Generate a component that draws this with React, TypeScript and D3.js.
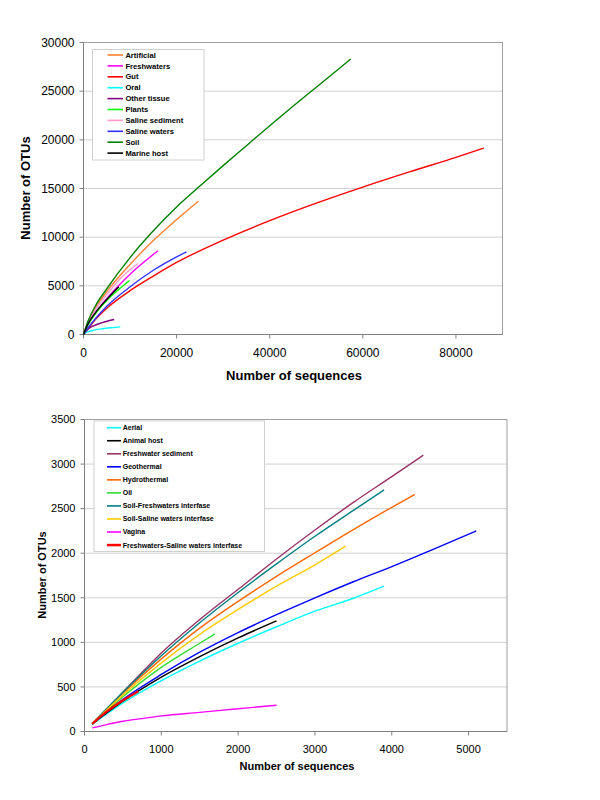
import React from "react";
import * as d3 from "d3";

type Pt = [number, number];

// ---------- Top chart data ----------
const topNames = ["Artificial", "Freshwaters", "Gut", "Oral", "Other tissue", "Plants", "Saline sediment", "Saline waters", "Soil", "Marine host"];
const topColors = ["#FF8033", "#FF00FF", "#FF0000", "#00FFFF", "#800080", "#00FF00", "#FF99CC", "#3333FF", "#008000", "#000000"];
const artificial: Pt[] = [[0, 0], [1000, 1300], [2500, 2700], [5000, 4400], [10000, 7200], [15000, 9650], [20000, 11800], [24700, 13700]];
const freshwaters: Pt[] = [[0, 0], [1000, 1100], [2500, 2200], [5000, 3700], [10000, 6200], [16000, 8600]];
const gut: Pt[] = [[0, 0], [1000, 600], [2500, 1500], [5000, 2700], [10000, 4500], [15000, 6000], [20000, 7400], [30000, 9700], [40000, 11700], [50000, 13500], [60000, 15150], [70000, 16700], [80000, 18200], [86000, 19150]];
const oral: Pt[] = [[0, 0], [500, 180], [1000, 280], [2000, 420], [4000, 590], [6000, 700], [7900, 780]];
const otherTissue: Pt[] = [[0, 0], [500, 350], [1000, 560], [2000, 850], [4000, 1220], [6600, 1540]];
const plants: Pt[] = [[0, 0], [1000, 1000], [2500, 2100], [5000, 3500], [7500, 4600], [9900, 5550]];
const salineSediment: Pt[] = [[0, 0], [1000, 1200], [2500, 2500], [5000, 4100], [8000, 5800], [11700, 7300]];
const salineWaters: Pt[] = [[0, 0], [1000, 700], [2500, 1600], [5000, 2900], [10000, 4900], [15000, 6600], [22100, 8500]];
const soil: Pt[] = [[0, 0], [1000, 1400], [2500, 2900], [5000, 4700], [10000, 7900], [15000, 10650], [20000, 13100], [25000, 15250], [30000, 17350], [35000, 19400], [40000, 21450], [45000, 23450], [50000, 25400], [55000, 27350], [57400, 28300]];
const marineHost: Pt[] = [[0, 0], [1000, 1100], [2500, 2200], [5000, 3600], [7600, 4900]];
const topSeries = [artificial, freshwaters, gut, oral, otherTissue, plants, salineSediment, salineWaters, soil, marineHost];
const topXTicks = [0, 20000, 40000, 60000, 80000];
const topYTicks = [0, 5000, 10000, 15000, 20000, 25000, 30000];

// ---------- Bottom chart data ----------
const botNames = ["Aerial", "Animal host", "Freshwater sediment", "Geothermal", "Hydrothermal", "Oil", "Soil-Freshwaters interfase", "Soil-Saline waters interfase", "Vagina", "Freshwaters-Saline waters interfase"];
const botColors = ["#00FFFF", "#000000", "#993366", "#0000FF", "#FF6600", "#33DD33", "#008080", "#FFCC00", "#FF00FF", "#FF0000"];
const aerial: Pt[] = [[100, 80], [500, 320], [1000, 570], [1500, 790], [2000, 990], [2500, 1175], [3000, 1350], [3500, 1495], [3900, 1630]];
const animalHost: Pt[] = [[100, 85], [500, 340], [1000, 610], [1500, 840], [2000, 1050], [2500, 1240]];
const fwSediment: Pt[] = [[100, 90], [250, 215], [500, 440], [750, 665], [1000, 880], [1500, 1255], [2000, 1595], [2500, 1935], [3000, 2260], [3500, 2570], [4000, 2860], [4410, 3100]];
const geothermal: Pt[] = [[100, 85], [500, 360], [1000, 640], [1500, 890], [2000, 1110], [2500, 1310], [3000, 1500], [3500, 1680], [4000, 1850], [4500, 2030], [5100, 2250]];
const hydrothermal: Pt[] = [[100, 90], [500, 430], [1000, 815], [1500, 1160], [2000, 1460], [2500, 1740], [3000, 2005], [3500, 2265], [4000, 2515], [4300, 2660]];
const oil: Pt[] = [[100, 85], [500, 390], [1000, 720], [1500, 990], [1700, 1095]];
const soilFw: Pt[] = [[100, 90], [500, 440], [1000, 850], [1500, 1220], [2000, 1560], [2500, 1880], [3000, 2190], [3500, 2480], [3900, 2710]];
const soilSaline: Pt[] = [[100, 90], [500, 410], [1000, 770], [1500, 1090], [2000, 1370], [2500, 1630], [3000, 1870], [3400, 2080]];
const vagina: Pt[] = [[100, 40], [300, 80], [500, 115], [750, 145], [1000, 175], [1500, 215], [2000, 255], [2500, 295]];
const fwSaline: Pt[] = [[100, 85], [300, 230], [500, 350], [700, 450]];
const botSeries = [aerial, animalHost, fwSediment, geothermal, hydrothermal, oil, soilFw, soilSaline, vagina, fwSaline];
const botXTicks = [0, 1000, 2000, 3000, 4000, 5000];
const botYTicks = [0, 500, 1000, 1500, 2000, 2500, 3000, 3500];

const FONT = "Arial, 'Liberation Sans', Helvetica, sans-serif";

interface PanelProps {
  left: number; right: number; top: number; bottom: number;
  xMax: number; yMax: number;
  xTicks: number[]; yTicks: number[];
  series: Pt[][]; names: string[]; colors: string[];
  tickSize: number; titleSize: number;
  xTitleY: number; xTitleX: number; yTitleX: number; yTitleY: number;
  legend: { x: number; y: number; w: number; h: number; first: number; step: number; lx1: number; lx2: number; tx: number; fs: number };
  thickLast?: boolean;
}

function Panel(p: PanelProps) {
  const x = d3.scaleLinear().domain([0, p.xMax]).range([p.left, p.right]);
  const y = d3.scaleLinear().domain([0, p.yMax]).range([p.bottom, p.top]);
  const line = d3.line<Pt>().x(d => x(d[0])).y(d => y(d[1])).curve(d3.curveMonotoneX);
  const lg = p.legend;
  return (
    <g>
      {p.yTicks.map(t => (
        t > 0 && t < p.yMax ? <line key={"g" + t} x1={p.left} x2={p.right} y1={y(t)} y2={y(t)} stroke="#d0d0d0" strokeWidth={1} /> : null
      ))}
      <rect x={p.left} y={p.top} width={p.right - p.left} height={p.bottom - p.top} fill="none" stroke="#a0a0a0" strokeWidth={1} />
      <line x1={p.left} x2={p.left} y1={p.top} y2={p.bottom} stroke="#808080" strokeWidth={1} />
      <line x1={p.left} x2={p.right} y1={p.bottom} y2={p.bottom} stroke="#808080" strokeWidth={1} />
      {p.yTicks.map(t => (
        <g key={"y" + t}>
          <line x1={p.left - 4} x2={p.left} y1={y(t)} y2={y(t)} stroke="#808080" />
          <text x={p.left - 9} y={y(t)} dy="0.35em" textAnchor="end" fontSize={p.tickSize} fontFamily={FONT} fill="#000">{t}</text>
        </g>
      ))}
      {p.xTicks.map(t => (
        <g key={"x" + t}>
          <line x1={x(t)} x2={x(t)} y1={p.bottom} y2={p.bottom + 4} stroke="#808080" />
          <text x={x(t)} y={p.bottom + 18} dy="0.35em" textAnchor="middle" fontSize={p.tickSize} fontFamily={FONT} fill="#000">{t}</text>
        </g>
      ))}
      <text x={p.xTitleX} y={p.xTitleY} dy="0.35em" textAnchor="middle" fontSize={p.titleSize} fontWeight="bold" fontFamily={FONT}>Number of sequences</text>
      <text transform={`translate(${p.yTitleX},${p.yTitleY}) rotate(-90)`} dy="0.35em" textAnchor="middle" fontSize={p.titleSize} fontWeight="bold" fontFamily={FONT}>Number of OTUs</text>
      {p.series.map((s, i) => (
        <path key={"s" + i} d={line(s) || ""} fill="none" stroke={p.colors[i]} strokeWidth={p.thickLast && i === p.series.length - 1 ? 2.2 : 1.4} />
      ))}
      <rect x={lg.x} y={lg.y} width={lg.w} height={lg.h} fill="#fff" stroke="#d0d0d0" strokeWidth={1} />
      {p.names.map((n, i) => {
        const yy = lg.first + i * lg.step;
        return (
          <g key={"l" + i}>
            <line x1={lg.lx1} x2={lg.lx2} y1={yy} y2={yy} stroke={p.colors[i]} strokeWidth={p.thickLast && i === p.names.length - 1 ? 2.5 : 1.6} />
            <text x={lg.tx} y={yy} dy="0.35em" fontSize={lg.fs} fontWeight="bold" fontFamily={FONT} fill="#000">{n}</text>
          </g>
        );
      })}
    </g>
  );
}

export default function App() {
  return (
    <svg width={600} height={800} style={{ position: "absolute", left: 0, top: 0, background: "#fff" }}>
      <rect x={0} y={0} width={600} height={800} fill="#fff" />
      <Panel left={83.5} right={502.5} top={42.5} bottom={334.5} xMax={90000} yMax={30000}
        xTicks={topXTicks} yTicks={topYTicks} series={topSeries} names={topNames} colors={topColors}
        tickSize={12} titleSize={13} xTitleX={294} xTitleY={375} yTitleX={25} yTitleY={188}
        legend={{ x: 92.5, y: 49.5, w: 111.5, h: 110.5, first: 55, step: 10.9, lx1: 107.5, lx2: 123, tx: 125.4, fs: 7.6 }} />
      <Panel left={84.5} right={507} top={419.5} bottom={731.5} xMax={5500} yMax={3500}
        xTicks={botXTicks} yTicks={botYTicks} series={botSeries} names={botNames} colors={botColors}
        tickSize={11} titleSize={11} xTitleX={297} xTitleY={766} yTitleX={42} yTitleY={575}
        legend={{ x: 94, y: 421, w: 170.5, h: 130.5, first: 427.7, step: 13.04, lx1: 107, lx2: 121, tx: 122.7, fs: 7 }}
        thickLast />
    </svg>
  );
}
